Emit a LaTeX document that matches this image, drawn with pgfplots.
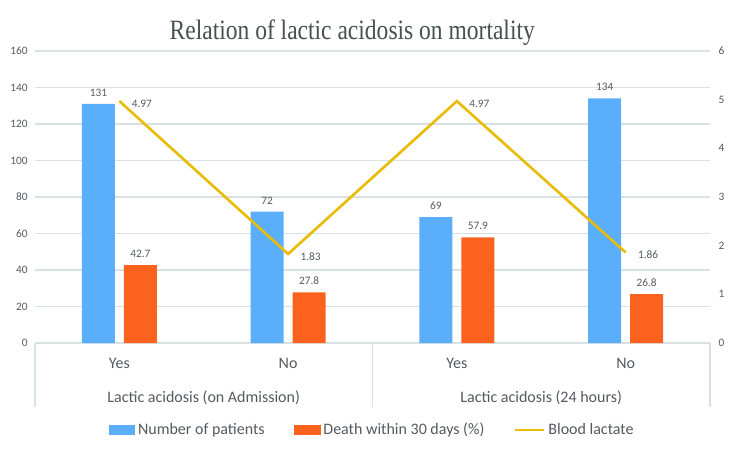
\documentclass[border=0pt]{standalone}
\usepackage{pgfplots}
\pgfplotsset{compat=1.18}
\usepackage{fontspec}
\setmainfont{Carlito}
\newfontfamily\titlefont{Liberation Serif}
\definecolor{barblue}{RGB}{91,174,250}
\definecolor{barorange}{RGB}{250,98,30}
\definecolor{lineyellow}{RGB}{232,188,10}
\definecolor{gridc}{RGB}{216,226,228}
\definecolor{txt}{RGB}{85,90,95}
\definecolor{titlec}{RGB}{70,82,78}
\pgfkeys{/pgf/number format/assume math mode=true}
\begin{document}
\begin{tikzpicture}
\useasboundingbox (0,0) rectangle (552.75pt,342.75pt);
\begin{axis}[
  at={(26.25pt,85.5pt)}, anchor=south west,
  scale only axis, width=506.25pt, height=219pt,
  xmin=-0.5, xmax=3.5, ymin=0, ymax=160, ytick={0,20,...,160},
  xtick={0,1,2,3}, xticklabels={Yes,No,Yes,No},
  ybar, bar width=24.75pt,
  axis line style={draw=none}, major tick length=0pt,
  ymajorgrids, grid style={gridc, line width=0.8pt},
  /pgf/number format/assume math mode=true,
  yticklabel style={font=\fontsize{8.5}{10}\selectfont, color=txt, xshift=-2pt},
  xticklabel style={font=\fontsize{12}{14}\selectfont, color=txt, yshift=-8pt},
  clip=false,
  nodes near coords,
  every node near coord/.append style={font=\fontsize{8.5}{10}\selectfont, color=txt, yshift=2pt},
  legend columns=3,
  legend style={draw=none, at={(0.50,-0.298)}, anchor=center,
    font=\fontsize{12}{14}\selectfont, text=txt,
    /tikz/every even column/.append style={column sep=20pt}},
]
\addplot[fill=barblue, draw=none, bar shift=-15.75pt,
  legend image code/.code={\fill[barblue] (0pt,-3.75pt) rectangle (20pt,3.75pt);}]
  coordinates {(0,131) (1,72) (2,69) (3,134)};
\addlegendentry{Number of patients}
\addplot[fill=barorange, draw=none, bar shift=15.75pt,
  legend image code/.code={\fill[barorange] (0pt,-3.75pt) rectangle (20pt,3.75pt);}]
  coordinates {(0,42.7) (1,27.8) (2,57.9) (3,26.8)};
\addlegendentry{Death within 30 days (\%)}
\addlegendimage{lineyellow, line width=2pt, legend image code/.code={\draw[lineyellow, line width=2pt] (0pt,0pt) -- (22pt,0pt);}}
\addlegendentry{Blood lactate}
\draw[gridc, line width=0.8pt] (axis cs:-0.5,0) -- ++(0pt,-48pt);
\draw[gridc, line width=0.8pt] (axis cs:1.5,0) -- ++(0pt,-48pt);
\draw[gridc, line width=0.8pt] (axis cs:3.5,0) -- ++(0pt,-48pt);
\node[font=\fontsize{12}{14}\selectfont, text=txt] at ([yshift=-41pt]axis cs:0.5,0) {Lactic acidosis (on Admission)};
\node[font=\fontsize{12}{14}\selectfont, text=txt] at ([yshift=-41pt]axis cs:2.5,0) {Lactic acidosis (24 hours)};
\node[fill=white, inner xsep=10pt, inner ysep=3pt, text=titlec] at (rel axis cs:0.47,1.064) {\titlefont\fontsize{21}{24}\selectfont\scalebox{0.84}[1]{Relation of lactic acidosis on mortality}};
\end{axis}
\begin{axis}[
  at={(26.25pt,85.5pt)}, anchor=south west,
  scale only axis, width=506.25pt, height=219pt,
  xmin=-0.5, xmax=3.5, ymin=0, ymax=6, ytick={0,1,...,6},
  axis y line*=right, axis x line=none,
  axis line style={draw=none}, major tick length=0pt,
  /pgf/number format/assume math mode=true,
  yticklabel style={font=\fontsize{8.5}{10}\selectfont, color=txt, xshift=3pt},
  clip=false,
]
\addplot[lineyellow, line width=2pt, mark=none,
  nodes near coords, point meta=explicit symbolic,
  every node near coord/.append style={font=\fontsize{8.5}{10}\selectfont, color=txt, anchor=west, xshift=5pt, yshift=-2pt}]
  coordinates {(0,4.97) [4.97] (1,1.83) [1.83] (2,4.97) [4.97] (3,1.86) [1.86]};
\end{axis}
\end{tikzpicture}
\end{document}
